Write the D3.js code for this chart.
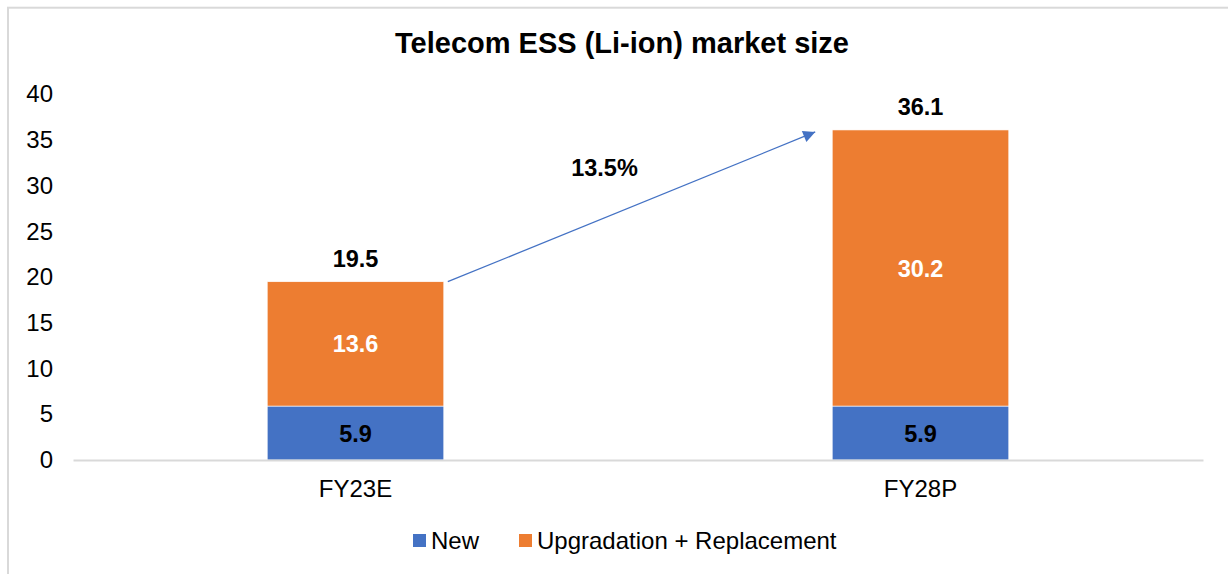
<!DOCTYPE html>
<html lang="en">
<head>
  <meta charset="UTF-8">
  <title>Telecom ESS (Li-ion) market size</title>
  <style>
    body { margin: 0; background: #fff; }
    svg { display: block; font-family: Arial, "Liberation Sans", sans-serif; }
  </style>
</head>
<body>
  <svg id="chart" width="1228" height="574"></svg>

  <script src="https://cdn.jsdelivr.net/npm/d3@7"></script>
  <script>
    // data
    const categories = ['FY23E', 'FY28P'];
    const newValues = [5.9, 5.9];
    const upgradeValues = [13.6, 30.2];
    const totals = [19.5, 36.1];
    const seriesNames = ['New', 'Upgradation + Replacement'];
    const seriesColors = ['#4472C4', '#ED7D31'];
    const yTicks = [0, 5, 10, 15, 20, 25, 30, 35, 40];
    const cagrLabel = '13.5%';

    const width = 1228;
    const height = 574;
    const margin = { left: 73, right: 25, top: 94.3, bottom: 114 };

    const svg = d3.select('#chart');

    // outer frame (runs off the right and bottom edges like the original)
    svg.append('rect')
      .attr('x', 8).attr('y', 7.7)
      .attr('width', 1240).attr('height', 600)
      .attr('fill', 'none')
      .attr('stroke', '#d9d9d9')
      .attr('stroke-width', 2);

    svg.append('text')
      .attr('x', 622).attr('y', 53)
      .attr('text-anchor', 'middle')
      .attr('font-size', 29)
      .attr('font-weight', 'bold')
      .attr('fill', '#000')
      .text('Telecom ESS (Li-ion) market size');

    const x = d3.scaleBand()
      .domain(categories)
      .range([margin.left, width - margin.right])
      .padding(0);

    const y = d3.scaleLinear()
      .domain([0, 40])
      .range([height - margin.bottom, margin.top]);

    const barW = x.bandwidth() * 0.3125;
    const barX = c => x(c) + (x.bandwidth() - barW) / 2;

    // y axis labels only
    const yAxis = d3.axisLeft(y).tickValues(yTicks).tickSize(0).tickPadding(0);
    const yg = svg.append('g')
      .attr('transform', 'translate(53,0)')
      .call(yAxis);
    yg.select('.domain').remove();
    yg.selectAll('text')
      .attr('font-size', 24)
      .attr('font-family', 'Arial, "Liberation Sans", sans-serif')
      .attr('fill', '#000');

    // stacked data
    const rows = categories.map((c, i) => ({ cat: c, New: newValues[i], Up: upgradeValues[i], total: totals[i] }));
    const stack = d3.stack().keys(['New', 'Up'])(rows);

    svg.append('g').selectAll('g')
      .data(stack)
      .join('g')
      .attr('fill', (d, i) => seriesColors[i])
      .selectAll('rect')
      .data(d => d)
      .join('rect')
      .attr('x', d => barX(d.data.cat))
      .attr('y', d => y(d[1]))
      .attr('width', barW)
      .attr('height', d => y(d[0]) - y(d[1]))
      .attr('stroke', '#fff')
      .attr('stroke-width', 0.6);

    // x axis line + labels
    const xAxis = d3.axisBottom(x).tickSize(0).tickPadding(0);
    const xg = svg.append('g')
      .attr('transform', `translate(0,${y(0)})`)
      .call(xAxis);
    xg.select('.domain')
      .attr('stroke', '#d9d9d9')
      .attr('stroke-width', 2);
    xg.selectAll('text')
      .attr('font-size', 24)
      .attr('font-family', 'Arial, "Liberation Sans", sans-serif')
      .attr('fill', '#000')
      .attr('dy', null)
      .attr('y', 37);

    // segment labels
    const labels = svg.append('g')
      .attr('font-size', 23.5)
      .attr('font-weight', 'bold')
      .attr('text-anchor', 'middle');

    stack.forEach((layer, li) => {
      labels.selectAll(null)
        .data(layer)
        .join('text')
        .attr('x', d => barX(d.data.cat) + barW / 2)
        .attr('y', d => (y(d[0]) + y(d[1])) / 2 + 8.5)
        .attr('fill', li === 0 ? '#000' : '#fff')
        .text(d => d3.format('.1f')(d[1] - d[0]));
    });

    labels.selectAll(null)
      .data(rows)
      .join('text')
      .attr('x', d => barX(d.cat) + barW / 2)
      .attr('y', d => y(d.total) - 15)
      .attr('fill', '#000')
      .text(d => d3.format('.1f')(d.total));

    // growth arrow
    svg.append('defs').append('marker')
      .attr('id', 'arrowhead')
      .attr('viewBox', '0 0 10 10')
      .attr('refX', 10).attr('refY', 5)
      .attr('markerWidth', 16).attr('markerHeight', 12)
      .attr('markerUnits', 'userSpaceOnUse')
      .attr('orient', 'auto')
      .append('path')
      .attr('d', 'M0,0 L10,5 L0,10 Z')
      .attr('fill', '#4472C4');

    const x1 = barX(categories[0]) + barW + 4;
    const y1 = y(totals[0]);
    const x2 = barX(categories[1]) - 17;
    const y2 = y(totals[1]) + 2;

    svg.append('line')
      .attr('x1', x1).attr('y1', y1)
      .attr('x2', x2).attr('y2', y2)
      .attr('stroke', '#4472C4')
      .attr('stroke-width', 1.3)
      .attr('marker-end', 'url(#arrowhead)');

    svg.append('text')
      .attr('x', (x1 + x2) / 2 - 27)
      .attr('y', (y1 + y2) / 2 - 31)
      .attr('text-anchor', 'middle')
      .attr('font-size', 23.5)
      .attr('font-weight', 'bold')
      .attr('fill', '#000')
      .text(cagrLabel);

    // legend
    const legend = svg.append('g').attr('font-size', 24);
    const legendX = [413, 519];
    seriesNames.forEach((name, i) => {
      legend.append('rect')
        .attr('x', legendX[i]).attr('y', 534)
        .attr('width', 13).attr('height', 13)
        .attr('fill', seriesColors[i]);
      legend.append('text')
        .attr('x', legendX[i] + 18).attr('y', 549)
        .attr('fill', '#000')
        .text(name);
    });
  </script>
</body>
</html>
